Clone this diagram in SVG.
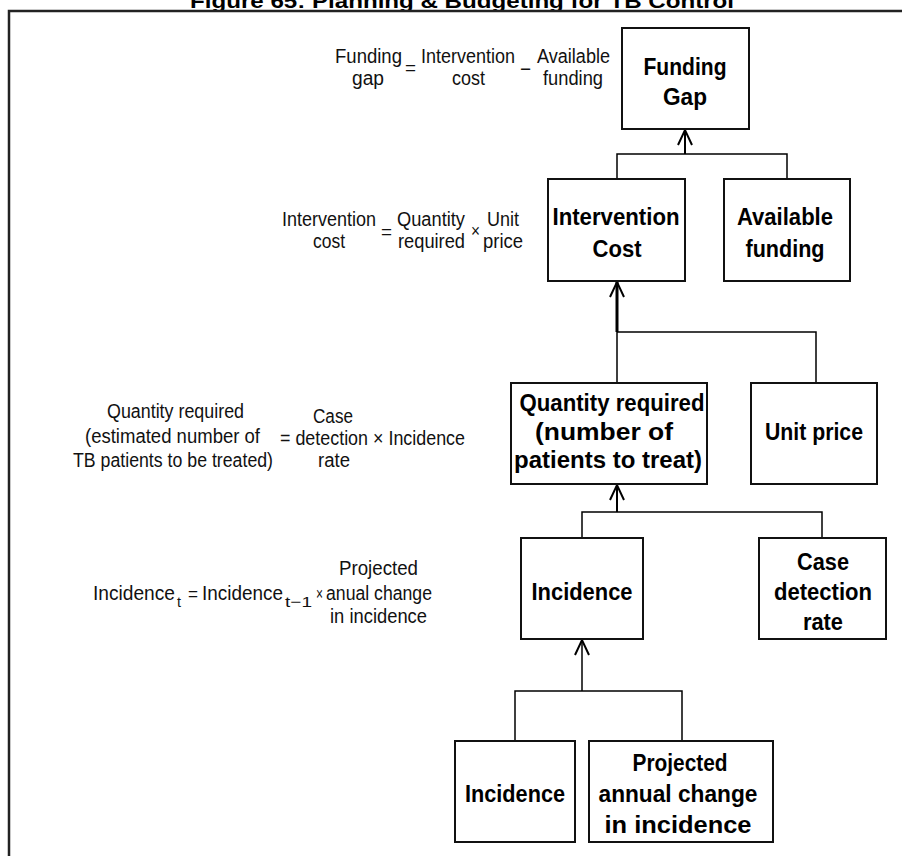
<svg xmlns="http://www.w3.org/2000/svg" width="902" height="856" viewBox="0 0 902 856">
<style>
.box{fill:#fff;stroke:#111;stroke-width:2}
.lbl{font-family:"Liberation Sans",Arial,sans-serif;font-weight:bold;font-size:23px;fill:#000;text-anchor:middle}
.f{font-family:"Liberation Sans",Arial,sans-serif;font-size:20px;fill:#111}
.op{font-size:18px}
.sub{font-size:15px}
.ln{fill:none;stroke:#000;stroke-width:1.5}
.sh{fill:none;stroke:#000}
</style>
<defs>
<marker id="ah" markerUnits="userSpaceOnUse" orient="auto" overflow="visible" refX="0" refY="0" markerWidth="20" markerHeight="20">
<path d="M-15,-7 L0,0 L-15,7" fill="none" stroke="#000" stroke-width="2"/>
</marker>
</defs>
<rect width="902" height="856" fill="#fff"/>
<text x="462" y="8" style="font-family:'Liberation Sans',Arial,sans-serif;font-weight:bold;font-size:20px;text-anchor:middle" textLength="544" lengthAdjust="spacingAndGlyphs">Figure 65: Planning &amp; Budgeting for TB Control</text>
<path d="M902,11 H9 V856" fill="none" stroke="#222" stroke-width="2.5"/>

<g id="connectors">
<path class="sh" d="M685,154 V130" stroke-width="2" marker-end="url(#ah)"/>
<path class="ln" d="M617,179 V154 H787 V179"/>
<path class="sh" d="M617,332 V282" stroke-width="3" marker-end="url(#ah)"/>
<path class="ln" d="M617,383 V332 H816 V383"/>
<path class="sh" d="M617,512 V485" stroke-width="2" marker-end="url(#ah)"/>
<path class="ln" d="M582,538 V512 H822 V538"/>
<path class="sh" d="M582,691 V640" stroke-width="1.5" marker-end="url(#ah)"/>
<path class="ln" d="M515,741 V691 H682 V741"/>
</g>

<g id="funding-gap">
<rect class="box" x="622" y="28" width="127" height="101"/>
<text class="lbl" x="685" y="75" textLength="83" lengthAdjust="spacingAndGlyphs">Funding</text>
<text class="lbl" x="685" y="105" textLength="44" lengthAdjust="spacingAndGlyphs">Gap</text>
</g>
<g id="intervention-cost">
<rect class="box" x="548" y="179" width="137" height="102"/>
<text class="lbl" x="616" y="225" textLength="127" lengthAdjust="spacingAndGlyphs">Intervention</text>
<text class="lbl" x="617" y="257" textLength="49" lengthAdjust="spacingAndGlyphs">Cost</text>
</g>
<g id="available-funding">
<rect class="box" x="724" y="179" width="126" height="102"/>
<text class="lbl" x="785" y="225" textLength="96" lengthAdjust="spacingAndGlyphs">Available</text>
<text class="lbl" x="785" y="257" textLength="79" lengthAdjust="spacingAndGlyphs">funding</text>
</g>
<g id="quantity-required">
<rect class="box" x="511" y="383" width="196" height="101"/>
<text class="lbl" x="612" y="411" textLength="185" lengthAdjust="spacingAndGlyphs">Quantity required</text>
<text class="lbl" x="604" y="440" textLength="138" lengthAdjust="spacingAndGlyphs">(number of</text>
<text class="lbl" x="608" y="468" textLength="188" lengthAdjust="spacingAndGlyphs">patients to treat)</text>
</g>
<g id="unit-price">
<rect class="box" x="751" y="383" width="126" height="101"/>
<text class="lbl" x="814" y="440" textLength="98" lengthAdjust="spacingAndGlyphs">Unit price</text>
</g>
<g id="incidence">
<rect class="box" x="521" y="538" width="122" height="101"/>
<text class="lbl" x="582" y="600" textLength="101" lengthAdjust="spacingAndGlyphs">Incidence</text>
</g>
<g id="case-detection-rate">
<rect class="box" x="759" y="538" width="127" height="101"/>
<text class="lbl" x="823" y="570" textLength="52" lengthAdjust="spacingAndGlyphs">Case</text>
<text class="lbl" x="823" y="600" textLength="98" lengthAdjust="spacingAndGlyphs">detection</text>
<text class="lbl" x="823" y="630" textLength="40" lengthAdjust="spacingAndGlyphs">rate</text>
</g>
<g id="incidence-prev">
<rect class="box" x="455" y="741" width="120" height="101"/>
<text class="lbl" x="515" y="802" textLength="100" lengthAdjust="spacingAndGlyphs">Incidence</text>
</g>
<g id="projected-change">
<rect class="box" x="589" y="741" width="184" height="101"/>
<text class="lbl" x="680" y="771" textLength="95" lengthAdjust="spacingAndGlyphs">Projected</text>
<text class="lbl" x="678" y="802" textLength="159" lengthAdjust="spacingAndGlyphs">annual change</text>
<text class="lbl" x="678" y="833" textLength="147" lengthAdjust="spacingAndGlyphs">in incidence</text>
</g>

<g id="formula-funding-gap" class="f">
<text x="335" y="63" textLength="67" lengthAdjust="spacingAndGlyphs">Funding</text>
<text x="352" y="85" textLength="32" lengthAdjust="spacingAndGlyphs">gap</text>
<text class="op" x="405" y="74" textLength="11" lengthAdjust="spacingAndGlyphs">=</text>
<text x="421" y="63" textLength="94" lengthAdjust="spacingAndGlyphs">Intervention</text>
<text x="452" y="85" textLength="33" lengthAdjust="spacingAndGlyphs">cost</text>
<text class="op" x="520" y="75" textLength="11" lengthAdjust="spacingAndGlyphs">−</text>
<text x="537" y="63" textLength="73" lengthAdjust="spacingAndGlyphs">Available</text>
<text x="543" y="85" textLength="60" lengthAdjust="spacingAndGlyphs">funding</text>
</g>
<g id="formula-intervention-cost" class="f">
<text x="282" y="226" textLength="94" lengthAdjust="spacingAndGlyphs">Intervention</text>
<text x="313" y="248" textLength="32" lengthAdjust="spacingAndGlyphs">cost</text>
<text class="op" x="381" y="238" textLength="11" lengthAdjust="spacingAndGlyphs">=</text>
<text x="397" y="226" textLength="68" lengthAdjust="spacingAndGlyphs">Quantity</text>
<text x="398" y="248" textLength="67" lengthAdjust="spacingAndGlyphs">required</text>
<text class="op" x="471" y="237" textLength="9" lengthAdjust="spacingAndGlyphs">×</text>
<text x="487" y="226" textLength="32" lengthAdjust="spacingAndGlyphs">Unit</text>
<text x="483" y="248" textLength="40" lengthAdjust="spacingAndGlyphs">price</text>
</g>
<g id="formula-quantity" class="f">
<text x="107" y="418" textLength="137" lengthAdjust="spacingAndGlyphs">Quantity required</text>
<text x="85" y="443" textLength="175" lengthAdjust="spacingAndGlyphs">(estimated number of</text>
<text x="73" y="467" textLength="200" lengthAdjust="spacingAndGlyphs">TB patients to be treated)</text>
<text x="313" y="423" textLength="40" lengthAdjust="spacingAndGlyphs">Case</text>
<text x="280" y="445" textLength="185" lengthAdjust="spacingAndGlyphs">= detection × Incidence</text>
<text x="318" y="467" textLength="32" lengthAdjust="spacingAndGlyphs">rate</text>
</g>
<g id="formula-incidence" class="f">
<text x="93" y="600" textLength="82" lengthAdjust="spacingAndGlyphs">Incidence</text>
<text class="sub" x="177" y="607" textLength="4" lengthAdjust="spacingAndGlyphs">t</text>
<text class="op" x="188" y="600" textLength="10" lengthAdjust="spacingAndGlyphs">=</text>
<text x="202" y="600" textLength="81" lengthAdjust="spacingAndGlyphs">Incidence</text>
<text class="sub" x="285" y="607" textLength="27" lengthAdjust="spacingAndGlyphs">t−1</text>
<text class="op" x="316" y="600" textLength="7" lengthAdjust="spacingAndGlyphs">×</text>
<text x="339" y="575" textLength="79" lengthAdjust="spacingAndGlyphs">Projected</text>
<text x="326" y="600" textLength="106" lengthAdjust="spacingAndGlyphs">anual change</text>
<text x="330" y="623" textLength="97" lengthAdjust="spacingAndGlyphs">in incidence</text>
</g>
</svg>
